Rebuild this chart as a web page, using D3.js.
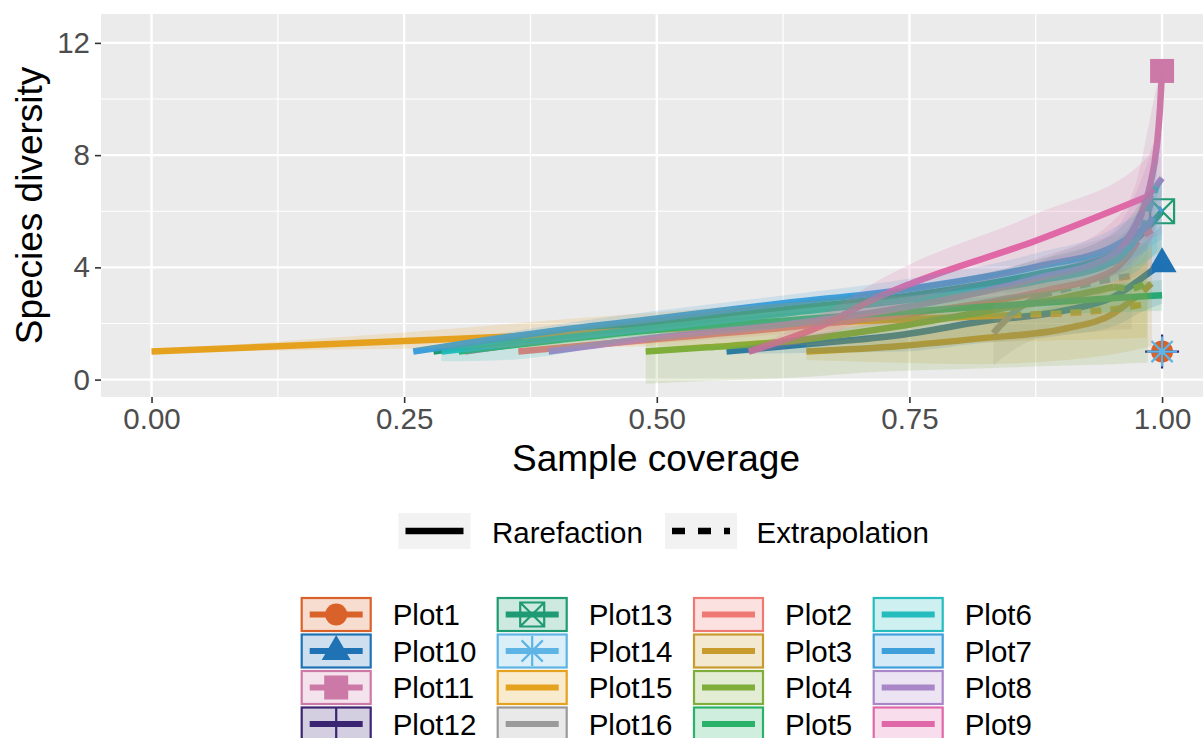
<!DOCTYPE html>
<html><head><meta charset="utf-8">
<script src="https://cdn.jsdelivr.net/npm/d3@7"></script>
<style>
html,body{margin:0;padding:0;background:#fff;}
svg{display:block;font-family:"Liberation Sans",Arial,Helvetica,sans-serif;}
</style>
</head><body>
<svg id="chart" width="1203" height="738"></svg>
<script>
// ---------------- data ----------------
const seriesNames = ["Plot1","Plot10","Plot11","Plot12","Plot13","Plot14","Plot15","Plot16",
                     "Plot2","Plot3","Plot4","Plot5","Plot6","Plot7","Plot8","Plot9"];
const seriesColors = ["#D9622B","#1F72B4","#CC79A7","#3B2472","#1E9B72","#5DB4E5","#E5A21F","#9A9A9A",
                      "#EF7A73","#C99A2E","#7FAE3A","#2AB26A","#25BCBE","#3E9FDB","#A886C8","#E068A8"];
const seriesShapes = ["circle","triangle","square","plus","boxX","asterisk",null,null,
                      null,null,null,null,null,null,null,null];
// each point: [sample coverage, diversity, lower CI, upper CI]
const rarefactionCurves = [
  [[1.0,1,1,1]],
  [[0.569,1.0,0.92,1.08],[0.65,1.27,0.95,1.6],[0.741,1.59,1.0,2.2],[0.82,2.06,1.3,2.8],[0.906,2.48,1.6,3.3],[0.952,2.95,1.9,3.9],[0.985,3.75,2.5,5.0],[1.0,4.15,2.7,5.5]],
  [[0.31,1.0,0.92,1.08],[0.404,1.5,1.35,1.65],[0.5,1.95,1.75,2.15],[0.625,2.45,2.2,2.7],[0.75,2.95,2.6,3.3],[0.875,3.7,3.1,4.3],[0.95,4.6,3.7,5.6],[0.975,5.6,4.2,7.1],[0.988,6.9,4.9,9.3],[0.995,8.4,5.6,10.5],[0.998,9.7,6.2,10.9],[1.0,11.0,6.6,11.0]],
  [[1.0,1,1,1]],
  [[0.279,1.0,0.93,1.07],[0.404,1.6,1.45,1.75],[0.5,2.0,1.82,2.18],[0.625,2.5,2.28,2.72],[0.75,3.0,2.7,3.3],[0.875,3.75,3.25,4.25],[0.952,4.45,3.7,5.2],[0.983,5.3,4.2,6.5],[1.0,6.0,4.6,7.3]],
  [[1.0,1,1,1]],
  [[0.0,1.0,1.0,1.0],[0.125,1.19,1.04,1.36],[0.25,1.38,1.1,1.68],[0.375,1.57,1.14,2.05],[0.5,1.78,1.18,2.4],[0.625,1.98,1.22,2.72],[0.75,2.15,1.3,3.0],[0.85,2.3,1.35,3.3]],
  [[0.833,1.65,0.5,2.6],[0.855,2.45,1.1,3.5],[0.88,3.0,1.5,4.2]],
  [[0.363,1.0,0.93,1.07],[0.5,1.45,1.3,1.6],[0.625,1.85,1.62,2.08],[0.75,2.35,2.05,2.65],[0.875,3.1,2.6,3.6],[0.952,3.9,3.2,4.6],[0.97,4.6,3.6,5.5]],
  [[0.648,1.0,0.7,1.25],[0.741,1.2,0.6,1.7],[0.82,1.47,0.55,2.15],[0.906,1.83,0.7,2.75],[0.952,2.36,0.9,3.45],[0.966,2.72,1.0,3.85]],
  [[0.489,1.0,-0.15,1.45],[0.55,1.15,-0.05,1.7],[0.625,1.35,0.05,2.0],[0.73,1.85,0.3,2.6],[0.82,2.4,0.4,3.2],[0.906,2.95,0.5,3.85],[0.952,3.3,0.55,4.4]],
  [[0.304,1.0,0.92,1.08],[0.404,1.42,1.28,1.56],[0.5,1.78,1.6,1.96],[0.625,2.1,1.85,2.35],[0.721,2.36,2.05,2.67],[0.875,2.72,2.3,3.1],[0.95,2.9,2.4,3.4],[1.0,3.01,2.45,3.55]],
  [[0.287,1.0,0.65,1.1],[0.36,1.3,0.72,1.45],[0.5,1.85,1.55,2.1],[0.625,2.35,2.05,2.65],[0.75,2.85,2.5,3.2],[0.875,3.5,3.0,4.0],[0.952,4.2,3.5,4.9],[0.98,5.3,4.0,6.4]],
  [[0.259,1.0,0.93,1.07],[0.404,1.77,1.6,1.98],[0.5,2.18,1.98,2.45],[0.625,2.72,2.48,3.0],[0.741,3.19,2.9,3.55],[0.875,4.02,3.6,4.5],[0.952,4.74,4.1,5.4],[0.985,5.45,4.6,6.3]],
  [[0.393,1.0,0.93,1.07],[0.5,1.5,1.35,1.65],[0.625,1.95,1.72,2.18],[0.741,2.55,2.25,2.85],[0.875,3.6,3.1,4.15],[0.952,4.45,3.7,5.3],[0.976,5.6,4.4,6.8]],
  [[0.591,1.0,0.9,1.1],[0.662,1.9,1.5,2.3],[0.72,2.95,2.35,3.55],[0.75,3.4,2.75,4.1],[0.875,4.95,3.95,5.9],[0.985,6.52,5.0,7.9]]
];
const extrapolationCurves = [
  [],
  [],
  [],
  [],
  [],
  [],
  [[0.9,2.36,1.4,3.5],[0.95,2.5,1.45,3.8],[0.985,2.7,1.5,4.2]],
  [[0.93,3.45,1.7,4.9],[0.97,3.7,1.8,5.3]],
  [[0.978,5.0,3.75,6.1],[0.99,5.33,3.95,6.6]],
  [[0.978,3.05,1.1,4.25],[0.99,3.45,1.2,4.75]],
  [[0.97,3.25,0.58,4.6],[0.986,3.5,0.6,4.9]],
  [],
  [[0.988,6.2,4.3,7.3],[0.995,6.95,4.6,8.1]],
  [[0.995,5.95,4.9,6.9],[1.0,6.1,5.0,7.2]],
  [[0.99,6.65,5.0,8.1],[1.0,7.18,5.2,8.8]],
  [[0.992,6.8,5.1,8.5]]
];
const methodLabels = ["Rarefaction","Extrapolation"];
const xTicks = [0, 0.25, 0.5, 0.75, 1.0];
const xTickLabels = ["0.00","0.25","0.50","0.75","1.00"];
const yTicks = [0, 4, 8, 12];
const yTickLabels = ["0","4","8","12"];
const xTitle = "Sample coverage";
const yTitle = "Species diversity";

// ---------------- layout ----------------
const svg = d3.select("#chart");
const P = {left:101, top:14, bottom:397};
const x = d3.scaleLinear().domain([-0.05, 1.05]).range([101, 1212.6]);
const y = d3.scaleLinear().domain([-0.62, 13.03]).range([397, 14]);
const FS = 29.5;

svg.append("rect").attr("width",1203).attr("height",738).attr("fill","#fff");
svg.append("defs").append("clipPath").attr("id","pclip")
  .append("rect").attr("x",P.left).attr("y",P.top).attr("width",1203-P.left).attr("height",P.bottom-P.top);

svg.append("rect").attr("x",P.left).attr("y",P.top).attr("width",1203-P.left).attr("height",P.bottom-P.top)
  .attr("fill","#EBEBEB");

const grid = svg.append("g").attr("clip-path","url(#pclip)");
const xMinor = d3.pairs(xTicks).map(([a,b])=>(a+b)/2);
const yMinor = d3.pairs(yTicks).map(([a,b])=>(a+b)/2);
grid.selectAll(".xmin").data(xMinor).join("line")
  .attr("x1",d=>x(d)).attr("x2",d=>x(d)).attr("y1",P.top).attr("y2",P.bottom)
  .attr("stroke","#fff").attr("stroke-width",1.2);
grid.selectAll(".ymin").data(yMinor).join("line")
  .attr("y1",d=>y(d)).attr("y2",d=>y(d)).attr("x1",P.left).attr("x2",1203)
  .attr("stroke","#fff").attr("stroke-width",1.2);
grid.selectAll(".xmaj").data(xTicks).join("line")
  .attr("x1",d=>x(d)).attr("x2",d=>x(d)).attr("y1",P.top).attr("y2",P.bottom)
  .attr("stroke","#fff").attr("stroke-width",2.4);
grid.selectAll(".ymaj").data(yTicks).join("line")
  .attr("y1",d=>y(d)).attr("y2",d=>y(d)).attr("x1",P.left).attr("x2",1203)
  .attr("stroke","#fff").attr("stroke-width",2.4);

// ---------------- shapes ----------------
function shapePath(kind){
  switch(kind){
    case "circle": return d3.symbol(d3.symbolCircle, Math.PI*11*11)();
    case "triangle": return "M0,-16L14.5,9L-14.5,9Z";
    case "square": return "M-12,-12H12V12H-12Z";
    case "plus": return "M-17,0H17M0,-17V17";
    case "boxX": return "M-12,-12H12V12H-12ZM-12,-12L12,12M12,-12L-12,12";
    case "asterisk": return "M-15,0H15M0,-15V15M-10.6,-10.6L10.6,10.6M10.6,-10.6L-10.6,10.6";
  }
  return null;
}
const filledShapes = new Set(["circle","triangle","square"]);
function drawShape(g, kind, color, cx, cy){
  const p = shapePath(kind);
  if(!p) return;
  const el = g.append("path").attr("d",p).attr("transform",`translate(${cx},${cy})`);
  if(filledShapes.has(kind)) el.attr("fill",color).attr("stroke","none");
  else el.attr("fill","none").attr("stroke",color).attr("stroke-width",2.2);
}

// ---------------- marks ----------------
const plot = svg.append("g").attr("clip-path","url(#pclip)");
const lineGen = d3.line().x(d=>x(d[0])).y(d=>y(d[1])).curve(d3.curveMonotoneX);
const areaGen = d3.area().x(d=>x(d[0])).y0(d=>y(d[2])).y1(d=>y(d[3])).curve(d3.curveMonotoneX);

const gPts = plot.append("g"), gLines = plot.append("g"), gRib = plot.append("g");

seriesNames.forEach((name,i)=>{
  const rare = rarefactionCurves[i];
  const ext = extrapolationCurves[i];
  const col = seriesColors[i];
  const obs = rare[rare.length-1];
  if(seriesShapes[i]) drawShape(gPts, seriesShapes[i], col, x(obs[0]), y(obs[1]));
  if(rare.length>1){
    gLines.append("path").datum(rare).attr("d",lineGen).attr("fill","none")
      .attr("stroke",col).attr("stroke-width",6.5).attr("stroke-linejoin","round");
  }
  if(ext.length){
    gLines.append("path").datum([obs].concat(ext)).attr("d",lineGen).attr("fill","none")
      .attr("stroke",col).attr("stroke-width",6.5).attr("stroke-dasharray","11 9");
  }
});
seriesNames.forEach((name,i)=>{
  const all = rarefactionCurves[i].concat(extrapolationCurves[i]);
  if(all.length>1){
    gRib.append("path").datum(all).attr("d",areaGen)
      .attr("fill",seriesColors[i]).attr("fill-opacity",0.17).attr("stroke","none");
  }
});

// ---------------- axes ----------------
const xAxis = svg.append("g").attr("transform",`translate(0,${P.bottom})`)
  .call(d3.axisBottom(x).tickValues(xTicks).tickFormat((d,i)=>xTickLabels[i]).tickSize(6).tickPadding(5));
const yAxis = svg.append("g").attr("transform",`translate(${P.left},0)`)
  .call(d3.axisLeft(y).tickValues(yTicks).tickFormat((d,i)=>yTickLabels[i]).tickSize(6).tickPadding(5));
[xAxis,yAxis].forEach(a=>{
  a.select(".domain").remove();
  a.selectAll(".tick line").attr("stroke","#333").attr("stroke-width",1.6);
  a.selectAll(".tick text").attr("fill","#4D4D4D").style("font-size",FS+"px")
    .style("font-family",'"Liberation Sans",Arial,Helvetica,sans-serif');
});
svg.append("text").attr("x",656).attr("y",471).attr("text-anchor","middle")
  .style("font-size","37px").attr("fill","#000").text(xTitle);
svg.append("text").attr("transform","translate(42,205.5) rotate(-90)").attr("text-anchor","middle")
  .style("font-size","37px").attr("fill","#000").text(yTitle);

// ---------------- legend: line type ----------------
const lt = svg.append("g");
const ltKeyX = [398.5, 665];
const ltTextX = [492, 756.6];
methodLabels.forEach((lab,i)=>{
  lt.append("rect").attr("x",ltKeyX[i]).attr("y",513).attr("width",72).attr("height",36).attr("fill","#F2F2F2");
  const ln = lt.append("line").attr("x1",ltKeyX[i]+7).attr("x2",ltKeyX[i]+65).attr("y1",531).attr("y2",531)
    .attr("stroke","#000").attr("stroke-width",6.5);
  if(i===1) ln.attr("stroke-dasharray","13 13");
  lt.append("text").attr("x",ltTextX[i]).attr("y",542.5).style("font-size",FS+"px").attr("fill","#000").text(lab);
});

// ---------------- legend: sites ----------------
const lg = svg.append("g");
const colX = [300.7, 496.7, 693, 872.7];
const rowY = [597, 633.5, 670, 706.5];
const kw = 71, kh = 35;
seriesNames.forEach((name,i)=>{
  const c = Math.floor(i/4), r = i%4;
  const kx = colX[c], ky = rowY[r];
  const col = seriesColors[i];
  lg.append("rect").attr("x",kx).attr("y",ky).attr("width",kw).attr("height",kh)
    .attr("fill","#fff");
  lg.append("rect").attr("x",kx+1).attr("y",ky+1).attr("width",kw-2).attr("height",kh-2)
    .attr("fill",col).attr("fill-opacity",0.22).attr("stroke",col).attr("stroke-width",2.2);
  lg.append("line").attr("x1",kx+9).attr("x2",kx+kw-9).attr("y1",ky+kh/2).attr("y2",ky+kh/2)
    .attr("stroke",col).attr("stroke-width",6);
  if(seriesShapes[i]) drawShape(lg, seriesShapes[i], col, kx+kw/2, ky+kh/2);
  lg.append("text").attr("x",kx+92).attr("y",ky+28).style("font-size",FS+"px").attr("fill","#000").text(name);
});
</script>
</body></html>
